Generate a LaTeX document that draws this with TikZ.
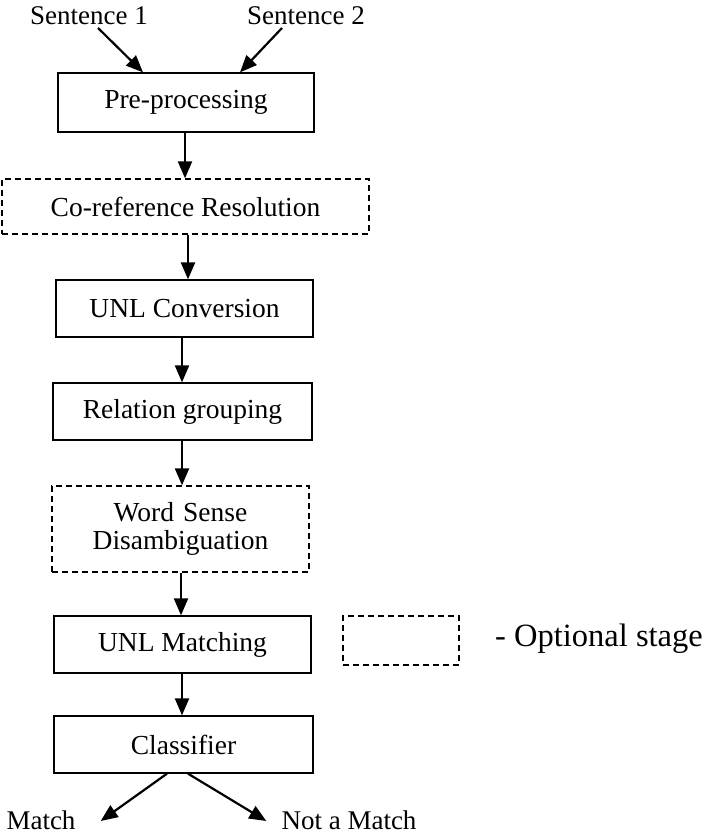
\documentclass[tikz,border=0pt]{standalone}
\usepackage{fontspec}
\setmainfont{Liberation Serif}
\usetikzlibrary{arrows.meta}
\begin{document}
\begin{tikzpicture}[x=1pt,y=-1pt,
  every node/.style={font=\fontsize{27.5}{30}\selectfont, inner sep=0pt},
  label/.style={anchor=base, font=\fontsize{27}{30}\selectfont},
  stage/.style={draw, line width=1.3pt, minimum height=57pt, align=center},
  optional/.style={stage, dashed, dash pattern=on 6pt off 4pt},
  conn/.style={line width=2.2pt, -{Triangle[length=17pt,width=14pt]}}]
\useasboundingbox (0,0) rectangle (704,835);
\node[label] (s1) at (89,24) {Sentence 1};
\node[label] (s2) at (306,24) {Sentence 2};
\node[stage, minimum width=256pt, minimum height=59pt] (pre) at (186,102.5) {Pre-processing};
\node[optional, minimum width=367pt, minimum height=55pt] (coref) at (185.5,206.5) {Co-reference Resolution};
\node[stage, minimum width=257pt] (unlc) at (184.5,308.5) {UNL Conversion};
\node[stage, minimum width=259pt] (rel) at (182.5,411.5) {Relation grouping};
\node[optional, minimum width=257pt, minimum height=86pt, text width=250pt] (wsd) at (180.5,529) {Word Sense\\[-2pt]Disambiguation};
\node[stage, minimum width=257pt] (unlm) at (182.5,644.5) {UNL Matching};
\node[stage, minimum width=259pt] (cls) at (183.5,744.5) {Classifier};
\node[optional, minimum width=116pt, minimum height=49pt] (leg) at (401,640.5) {};
\node[anchor=base west, font=\fontsize{32.5}{34}\selectfont] (legt) at (495,646) {- Optional stage};
\node[label] (match) at (41,829) {Match};
\node[label] (nomatch) at (349,829) {Not a Match};

\draw[conn] ([xshift=9pt,yshift=-4pt]s1.base) -- ([xshift=-43pt]pre.north);
\draw[conn] ([xshift=-24pt,yshift=-4pt]s2.base) -- ([xshift=54pt]pre.north);
\draw[conn] ([xshift=-1pt]pre.south) -- ([xshift=-1pt]pre.south |- coref.north);
\draw[conn] ([xshift=2.5pt]coref.south) -- ([xshift=2.5pt]coref.south |- unlc.north);
\draw[conn] ([xshift=-2.5pt]unlc.south) -- ([xshift=-2.5pt]unlc.south |- rel.north);
\draw[conn] ([xshift=-0.5pt]rel.south) -- ([xshift=-0.5pt]rel.south |- wsd.north);
\draw[conn] ([xshift=0.5pt]wsd.south) -- ([xshift=0.5pt]wsd.south |- unlm.north);
\draw[conn] ([xshift=-0.5pt]unlm.south) -- ([xshift=-0.5pt]unlm.south |- cls.north);
\draw[conn] ([xshift=-16.5pt]cls.south) -- ([xshift=25pt,yshift=8pt]match.base east);
\draw[conn] ([xshift=4.5pt]cls.south) -- ([xshift=-15pt,yshift=8pt]nomatch.base west);
\end{tikzpicture}
\end{document}
